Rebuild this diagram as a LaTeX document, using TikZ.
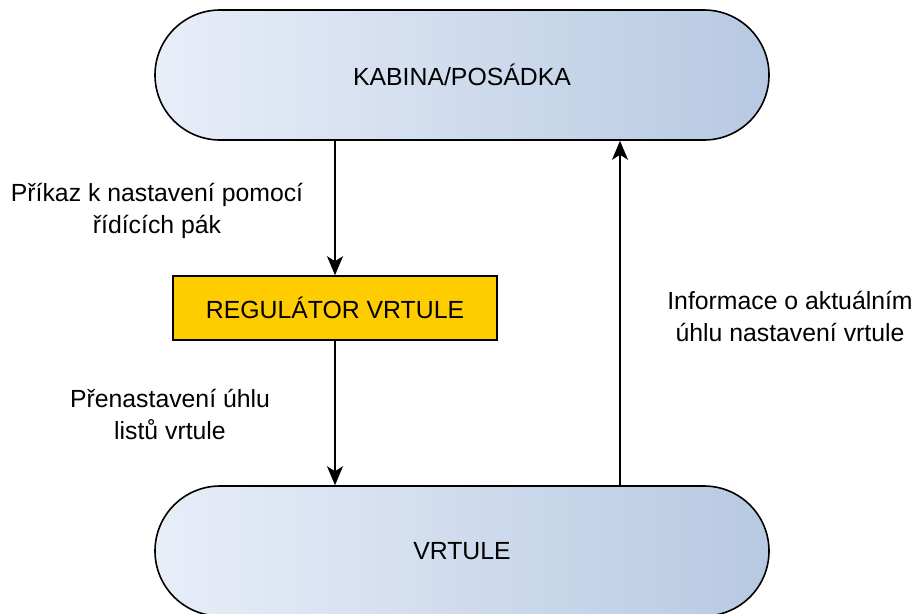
\documentclass[tikz,border=0pt]{standalone}
\usepackage{fontspec}
\setmainfont{Liberation Sans}
\usetikzlibrary{shapes.misc,arrows.meta}
\definecolor{blueL}{RGB}{232,238,248}
\definecolor{blueR}{RGB}{183,201,226}
\definecolor{regfill}{RGB}{255,204,0}
\begin{document}
\begin{tikzpicture}[x=1pt,y=-1pt,
  stadium/.style={rounded rectangle, draw=black, line width=1.6pt,
    left color=blueL, right color=blueR, minimum width=614pt, minimum height=130pt,
    inner sep=0pt, font=\fontsize{24.8}{30}\selectfont},
  regbox/.style={rectangle, draw=black, line width=1.6pt, fill=regfill,
    minimum width=324pt, minimum height=64pt, inner sep=0pt,
    font=\fontsize{24.8}{30}\selectfont},
  lbl/.style={align=center, font=\fontsize{24.8}{32}\selectfont, inner sep=0pt},
  flow/.style={line width=1.6pt, -{Stealth[length=19pt,width=16pt,inset=5pt]}}]
\useasboundingbox (0,0) rectangle (920,613);
\node[stadium] (cab) at (462,75) {KABINA/POSÁDKA};
\node[regbox] (reg) at (335,308) {REGULÁTOR VRTULE};
\node[stadium] (vrt) at (462,551) {VRTULE};
\draw[flow] (cab.south -| reg.north) -- (reg.north);
\draw[flow] (reg.south) -- (reg.south |- vrt.north);
\coordinate (up) at (620,486);
\draw[flow] (up) -- (up |- cab.south);
\node[lbl] (l1) at (157,211) {Příkaz k nastavení pomocí\\řídících pák};
\node[lbl] (l2) at (170,414) {Přenastavení úhlu\\listů vrtule};
\node[lbl] (l3) at (790,316) {Informace o aktuálním\\úhlu nastavení vrtule};
\end{tikzpicture}
\end{document}
